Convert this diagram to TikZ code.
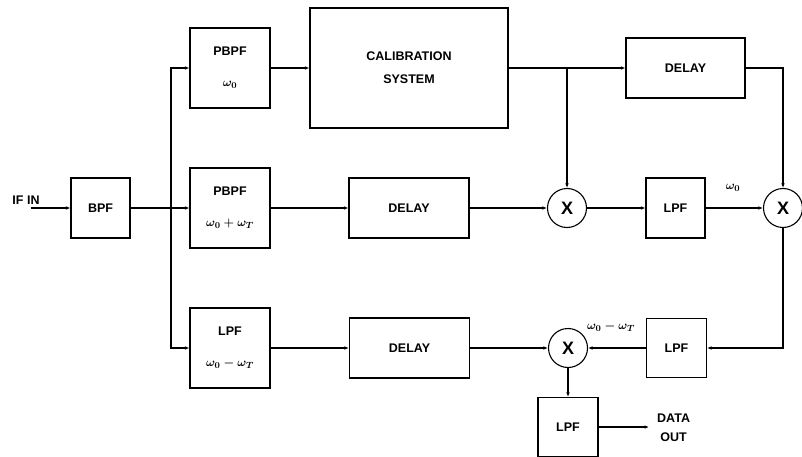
\documentclass[tikz,border=0pt]{standalone}
\usepackage{fontspec}
\setmainfont{Liberation Sans}
\usetikzlibrary{arrows.meta, positioning, calc}

\begin{document}
\begin{tikzpicture}[
      x=1pt, y=-1pt,
      font=\fontsize{12.5}{14}\selectfont\bfseries\boldmath,
      blk/.style={rectangle, draw, line width=1.1pt, align=center, inner sep=0pt},
      mix/.style={circle, draw, line width=1.1pt, minimum size=39pt, inner sep=0pt, font=\fontsize{18}{18}\selectfont\bfseries},
      arrow/.style={-{Latex[length=4.5pt, width=3.6pt]}, line width=1.1pt}
    ]
    \useasboundingbox (0,0) rectangle (802,457);

    \node[blk, minimum width=59pt, minimum height=60pt] (bpf) at (100.5,208) {BPF};
    \node[blk, minimum width=80pt, minimum height=80pt] (pbA) at (230,68) {PBPF\\[17pt]$\omega_0$};
    \node[blk, minimum width=80pt, minimum height=80pt] (pbB) at (230,208) {PBPF\\[17pt]$\omega_0+\omega_T$};
    \node[blk, minimum width=80pt, minimum height=80pt] (lpC) at (230,348) {LPF\\[17pt]$\omega_0-\omega_T$};
    \node[blk, minimum width=198pt, minimum height=120pt] (cal) at (409,68) {CALIBRATION\\[9pt]SYSTEM};
    \node[blk, minimum width=120pt, minimum height=60pt] (dlB) at (409,208) {DELAY};
    \node[blk, minimum width=120pt, minimum height=60pt] (dlC) at (409.5,348) {DELAY};
    \node[blk, minimum width=119pt, minimum height=60pt] (dlA) at (685.5,68) {DELAY};
    \node[mix] (mxA) at (567,208) {X};
    \node[mix] (mxB) at (783,208) {X};
    \node[mix] (mxC) at (568,348) {X};
    \node[blk, minimum width=59pt, minimum height=60pt] (lpA) at (675.5,208) {LPF};
    \node[blk, minimum width=60pt, minimum height=59pt] (lpD) at (676.5,348) {LPF};
    \node[blk, minimum width=60pt, minimum height=59pt] (lpE) at (568,427) {LPF};

    \node (ifin) at (26,200) {IF IN};
    \coordinate (in) at (31,208);
    \coordinate (split) at (171,208);
    \node[anchor=west, align=center, inner xsep=8pt] (out) at (649,428) {DATA\\[5pt]OUT};

    % main chain
    \draw[arrow] (in) -- (bpf.west);
    \draw[arrow] (bpf) -- (pbB);
    \draw[arrow] (split) |- (pbA.west);
    \draw[arrow] (split) |- (lpC.west);
    \draw[arrow] (pbA) -- (cal);
    \draw[arrow] (cal.east) -- (dlA.west);
    \draw[arrow] (mxA.north |- cal.east) -- (mxA.north);
    \draw[arrow] (dlA.east) -| (mxB.north);
    \draw[arrow] (pbB) -- (dlB);
    \draw[arrow] (dlB) -- (mxA);
    \draw[arrow] (mxA) -- (lpA);
    \draw[arrow] (lpA) -- (mxB);
    \draw[arrow] (mxB.south) |- (lpD.east);
    \draw[arrow] (lpC) -- (dlC);
    \draw[arrow] (dlC) -- (mxC);
    \draw[arrow] (lpD) -- (mxC);
    \draw[arrow] (mxC) -- (lpE);
    \draw[arrow] (lpE.east) -- (lpE.east -| out.west);

    % labels on lines
    \node at (733,188) {$\omega_0$};
    \node at (611,327) {$\omega_0-\omega_T$};
  \end{tikzpicture}
\end{document}
